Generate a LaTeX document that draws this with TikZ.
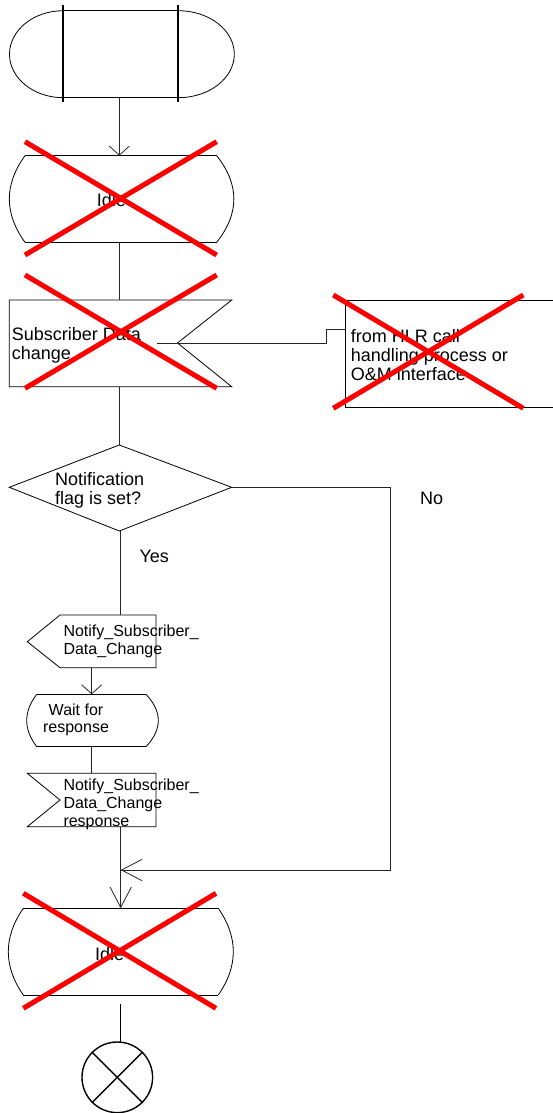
\documentclass[tikz,border=0pt]{standalone}
\usepackage{fontspec}
\setmainfont{Liberation Sans}
\usetikzlibrary{arrows.meta}
\begin{document}
\begin{tikzpicture}[x=1pt,y=-1pt,
  ln/.style={draw=black!85, line width=0.8pt},
  shp/.style={draw=black, line width=0.8pt},
  bar/.style={draw=black, line width=1.8pt},
  redx/.style={draw=red, line width=5pt},
  big/.style={inner sep=0pt, anchor=base west, align=left, font=\fontsize{18}{19}\selectfont},
  small/.style={inner sep=0pt, anchor=base west, align=left, font=\fontsize{16}{17.7}\selectfont},
  arrS/.style={-{Straight Barb[length=9pt,width=20pt,line width=0.8pt]}},
  arrL/.style={-{Straight Barb[length=20.5pt,width=21.4pt,line width=0.8pt]}},
  term/.style={draw=black, line width=1.4pt}]
\useasboundingbox (0,0) rectangle (552,1113);

% ---- start symbol
\draw[shp] (63.3,10.7) -- (178.3,10.7);
\draw[shp] (63.3,97.7) -- (178.3,97.7);
\draw[shp] (63.3,10.7) .. controls (33.6,10.7) and (9.5,30.2) .. (9.5,54.2)
                 .. controls (9.5,78.2) and (33.6,97.7) .. (63.3,97.7);
\draw[shp] (178.3,10.7) .. controls (209.2,10.7) and (234.3,30.2) .. (234.3,54.2)
                  .. controls (234.3,78.2) and (209.2,97.7) .. (178.3,97.7);
\draw[bar] (63.3,5) -- (63.3,102);
\draw[bar] (178.3,5) -- (178.3,102);
\coordinate (startS) at (119.3,97.7);

% ---- Idle 1
\draw[shp] (25,155.7) -- (216.7,155.7);
\draw[shp] (25,242.3) -- (216.7,242.3);
\draw[shp] (25,155.7) .. controls (4.1,184.6) and (4.1,213.4) .. (25,242.3);
\draw[shp] (216.7,155.7) .. controls (239.6,184.6) and (239.6,213.4) .. (216.7,242.3);
\coordinate (idle1N) at (119.3,155.7);
\coordinate (idle1S) at (119.3,242.3);
\node[big] (idle1t) at (96.7,206.7) {Idle};

% ---- input Subscriber Data change
\draw[shp] (231.7,300) -- (9.3,300) -- (9.3,386.7) -- (231.7,386.7) -- (177.5,343) -- cycle;
\coordinate (inN) at (119.3,300);
\coordinate (inS) at (119.3,386.7);
\coordinate (inE) at (157.3,343);
\node[big] (intxt) at (11.7,359) {Subscriber Data\\change};

% ---- HLR box
\draw[shp] (553,300.7) -- (345,300.7) -- (345,407.7) -- (553,407.7);
\coordinate (hlrW) at (345,329.3);
\coordinate (k1) at (326.7,343);
\coordinate (k2) at (326.7,329.3);
\node[big] (hlrtxt) at (350.7,380.7) {from HLR call\\handling process or\\O\&M interface};

% ---- decision
\draw[shp] (119.3,445) -- (231.7,487.3) -- (119.3,531) -- (9.3,487.3) -- cycle;
\coordinate (decN) at (119.3,445);
\coordinate (decE) at (231.7,487.3);
\coordinate (decS) at (120.5,531);
\node[big] (dectxt) at (55,504) {Notification\\flag is set?};
\node[big] (yes) at (139.3,562.7) {Yes};
\node[big] (no) at (420,504.3) {No};
\coordinate (noC1) at (390,487.3);
\coordinate (noC2) at (390,870);

% ---- output Notify_Subscriber_Data_Change
\draw[shp] (60,615) -- (156,615) -- (156,667.7) -- (60,667.7) -- (27.3,641.7) -- cycle;
\coordinate (outN) at (120.5,615);
\coordinate (outS) at (91.7,667.7);
\node[small] (outtxt) at (63.3,654.4) {Notify\_Subscriber\_\\Data\_Change};

% ---- wait state
\draw[shp] (36.7,694.3) -- (146,694.3);
\draw[shp] (36.7,746.7) -- (146,746.7);
\draw[shp] (36.7,694.3) .. controls (23.4,711.8) and (23.4,729.2) .. (36.7,746.7);
\draw[shp] (146,694.3) .. controls (162.4,711.8) and (162.4,729.2) .. (146,746.7);
\coordinate (waitN) at (91.7,694.3);
\coordinate (waitS) at (91.7,746.7);
\node[small, anchor=base, align=center] (waittxt) at (76,732.7) {Wait for\\response};

% ---- input response
\draw[shp] (27.3,773.3) -- (156,773.3) -- (156,826.7) -- (27.3,826.7) -- (60,800) -- cycle;
\coordinate (in2N) at (91.7,773.3);
\coordinate (in2S) at (120.7,826.7);
\node[small] (in2txt) at (63.3,826.1) {Notify\_Subscriber\_\\Data\_Change\\response};

% ---- Idle 2
\draw[shp] (23.3,908.3) -- (218.3,908.3);
\draw[shp] (23.3,995) -- (218.3,995);
\draw[shp] (23.3,908.3) .. controls (3.3,937.2) and (3.3,966.1) .. (23.3,995);
\draw[shp] (218.3,908.3) .. controls (238.3,937.2) and (238.3,966.1) .. (218.3,995);
\coordinate (idle2N) at (120.7,908.3);
\coordinate (merge) at (120.7,870);
\coordinate (idle2S) at (120.7,1004);
\node[big] (idle2t) at (95,960) {Idle};

% ---- stop
\node[term, circle, minimum size=70.6pt, inner sep=0pt] (stop) at (117.3,1077.3) {};
\draw[term] (stop.45) -- (stop.225);
\draw[term] (stop.135) -- (stop.-45);
\coordinate (stopN) at (120.7,1042.7);

% ---- connectors
\draw[ln, arrS] (startS) -- (idle1N);
\draw[ln] (idle1S) -- (inN);
\draw[ln] (inE) -- (k1) -- (k2) -- (hlrW);
\draw[ln] (inS) -- (decN);
\draw[ln] (decE) -- (noC1) -- (noC2) -- (merge);
\draw[ln, arrL] (noC2) -- (merge);
\draw[ln] (decS) -- (outN);
\draw[ln, arrS] (outS) -- (waitN);
\draw[ln] (waitS) -- (in2N);
\draw[ln, arrL] (in2S) -- (idle2N);
\draw[term] (idle2S) -- (stopN);

% ---- red crosses
\draw[redx] (25,141.7) -- (216.7,255);
\draw[redx] (25,255) -- (216.7,141.7);
\draw[redx] (25,275) -- (216.7,388.3);
\draw[redx] (25,388.3) -- (216.7,275);
\draw[redx] (333.3,295) -- (523.3,408.3);
\draw[redx] (333.3,408.3) -- (523.3,295);
\draw[redx] (23.3,893.3) -- (216,1008.3);
\draw[redx] (23.3,1008.3) -- (216,893.3);
\end{tikzpicture}
\end{document}
